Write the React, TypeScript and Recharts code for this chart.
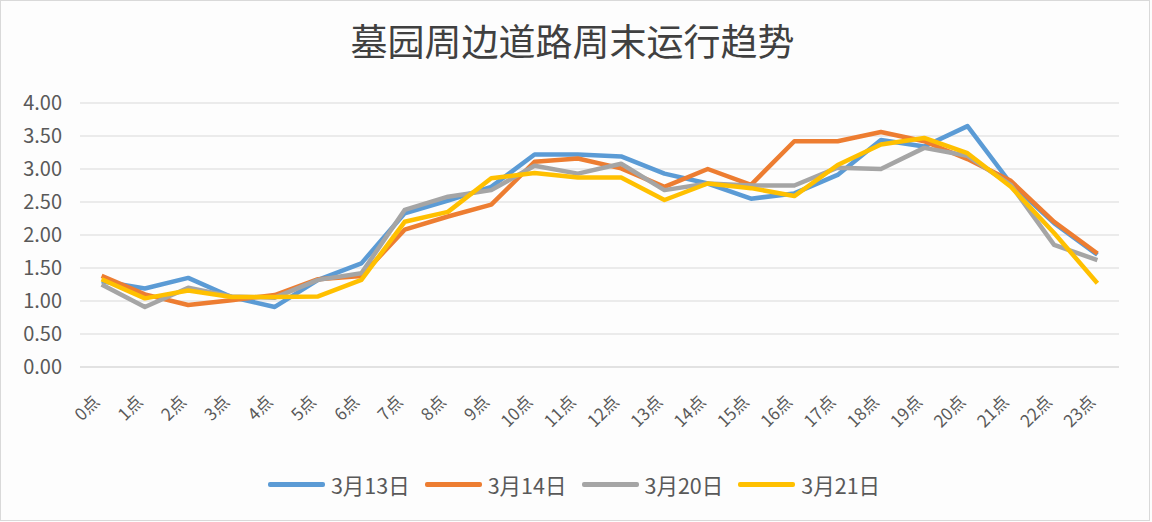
import React from 'react';
import { LineChart, Line, XAxis, YAxis, CartesianGrid, Legend } from 'recharts';

const hours = [
  '0点', '1点', '2点', '3点', '4点', '5点', '6点', '7点', '8点', '9点', '10点', '11点',
  '12点', '13点', '14点', '15点', '16点', '17点', '18点', '19点', '20点', '21点', '22点', '23点',
];

const mar13 = [1.3, 1.19, 1.35, 1.06, 0.91, 1.32, 1.57, 2.33, 2.52, 2.73, 3.22, 3.22, 3.19, 2.93, 2.78, 2.55, 2.63, 2.91, 3.44, 3.34, 3.65, 2.78, 2.18, 1.7];
const mar14 = [1.38, 1.1, 0.94, 1.01, 1.09, 1.33, 1.38, 2.08, 2.28, 2.46, 3.11, 3.16, 3.01, 2.73, 3.0, 2.76, 3.42, 3.42, 3.56, 3.42, 3.15, 2.82, 2.2, 1.72];
const mar20 = [1.25, 0.91, 1.2, 1.07, 1.05, 1.32, 1.42, 2.38, 2.58, 2.68, 3.05, 2.93, 3.08, 2.68, 2.78, 2.75, 2.75, 3.02, 3.0, 3.32, 3.2, 2.76, 1.85, 1.62];
const mar21 = [1.33, 1.04, 1.16, 1.06, 1.06, 1.07, 1.32, 2.2, 2.35, 2.86, 2.94, 2.87, 2.87, 2.53, 2.78, 2.71, 2.59, 3.06, 3.37, 3.47, 3.24, 2.73, 2.03, 1.27];

const yTicks = [0, 0.5, 1, 1.5, 2, 2.5, 3, 3.5, 4];

const series = [
  { key: 'mar13', name: '3月13日', color: '#5B9BD5' },
  { key: 'mar14', name: '3月14日', color: '#ED7D31' },
  { key: 'mar20', name: '3月20日', color: '#A5A5A5' },
  { key: 'mar21', name: '3月21日', color: '#FFC000' },
];

const data = hours.map((h, i) => ({
  hour: h,
  mar13: mar13[i],
  mar14: mar14[i],
  mar20: mar20[i],
  mar21: mar21[i],
}));

const FONT = '"Noto Sans CJK SC", "Noto Sans", sans-serif';

// excel draws category labels rotated, ending just under the tick
const HourTick = ({ x, payload }: any) => {
  const ax = x - 1;
  const ay = 403;
  return (
    <text
      x={ax}
      y={ay}
      transform={`rotate(-45, ${ax}, ${ay})`}
      textAnchor="end"
      fill="#595959"
      fontSize={17}
      fontFamily={FONT}
    >
      {payload.value}
    </text>
  );
};

const LegendBox = () => (
  <div style={{ height: 55, display: 'flex', justifyContent: 'center', paddingTop: 4, paddingLeft: 44, boxSizing: 'border-box', fontFamily: FONT }}>
    {series.map((s) => (
      <div key={s.key} style={{ display: 'flex', alignItems: 'center', height: 26, marginRight: 15 }}>
        <div style={{ width: 57, height: 5, background: s.color, borderRadius: 2, marginRight: 6 }} />
        <span style={{ fontSize: 21.5, color: '#595959' }}>{s.name}</span>
      </div>
    ))}
  </div>
);

export default function App() {
  return (
    <div style={{ position: 'fixed', left: 0, top: 0, width: 1152, height: 522, background: '#fdfdfd' }}>
      <div
        style={{
          position: 'absolute',
          left: 0,
          top: 0,
          width: 1148,
          height: 519,
          border: '1px solid #d9d9d9',
          pointerEvents: 'none',
        }}
      />
      <div
        style={{
          position: 'absolute',
          top: 17,
          left: 0,
          width: 1145,
          textAlign: 'center',
          fontSize: 37,
          color: '#404040',
          fontFamily: FONT,
          lineHeight: '46px',
        }}
      >
        墓园周边道路周末运行趋势
      </div>
      <LineChart width={1152} height={522} data={data} margin={{ top: 103, right: 33, left: 0, bottom: 0 }}>
        <CartesianGrid vertical={false} stroke="#d9d9d9" strokeWidth={1} />
        <XAxis
          dataKey="hour"
          height={100}
          interval={0}
          padding={{ left: 21.6, right: 21.6 }}
          tickLine={false}
          axisLine={{ stroke: '#d9d9d9' }}
          tick={<HourTick />}
        />
        <YAxis
          width={80}
          domain={[0, 4]}
          ticks={yTicks}
          axisLine={false}
          tickLine={false}
          tickSize={6}
          tickMargin={12}
          tickFormatter={(v: number) => v.toFixed(2)}
          tick={{ fill: '#595959', fontSize: 20, fontFamily: FONT }}
        />
        <Legend verticalAlign="bottom" content={<LegendBox />} />
        {series.map((s) => (
          <Line
            key={s.key}
            type="linear"
            dataKey={s.key}
            name={s.name}
            stroke={s.color}
            strokeWidth={4.5}
            strokeLinejoin="round"
            dot={false}
            isAnimationActive={false}
          />
        ))}
      </LineChart>
    </div>
  );
}
